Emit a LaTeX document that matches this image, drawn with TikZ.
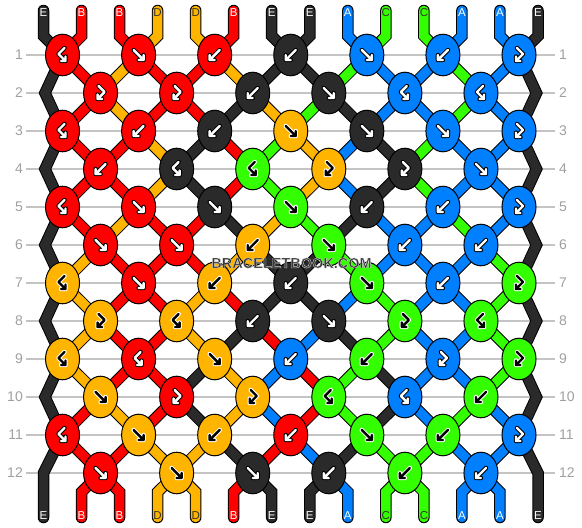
\documentclass[tikz,border=0pt]{standalone}
\usepackage{fontspec}
\setmainfont{Liberation Sans}
\usetikzlibrary{shapes.geometric}
\definecolor{c0}{HTML}{2A2A2A}
\definecolor{c1}{HTML}{FF0000}
\definecolor{c2}{HTML}{FFB400}
\definecolor{c3}{HTML}{0080FF}
\definecolor{c4}{HTML}{33FF00}
\definecolor{gridgray}{HTML}{C4C4C4}
\definecolor{numgray}{HTML}{A0A0A0}
\definecolor{wmdark}{HTML}{383838}
\definecolor{lbldark}{HTML}{333333}
% strand colours after each row (E=0,B=1,D=2,A=3,C=4)
\expandafter\def\csname st0\endcsname{0,1,1,2,2,1,0,0,3,4,4,3,3,0}
\expandafter\def\csname st1\endcsname{0,1,2,1,1,2,0,0,4,3,3,4,3,0}
\expandafter\def\csname st2\endcsname{0,1,2,1,1,0,2,4,0,3,3,4,3,0}
\expandafter\def\csname st3\endcsname{0,1,1,2,0,1,4,2,3,0,4,3,3,0}
\expandafter\def\csname st4\endcsname{0,1,1,2,0,1,4,2,3,0,4,3,3,0}
\expandafter\def\csname st5\endcsname{0,1,2,1,1,0,2,4,0,3,3,4,3,0}
\expandafter\def\csname st6\endcsname{0,2,1,1,1,2,0,0,4,3,3,3,4,0}
\expandafter\def\csname st7\endcsname{0,2,1,1,2,1,0,0,3,4,3,3,4,0}
\expandafter\def\csname st8\endcsname{0,2,1,1,2,0,1,3,0,4,3,3,4,0}
\expandafter\def\csname st9\endcsname{0,2,1,1,0,2,3,1,4,0,3,3,4,0}
\expandafter\def\csname st10\endcsname{0,1,2,1,0,2,3,1,4,0,3,4,3,0}
\expandafter\def\csname st11\endcsname{0,1,1,2,2,0,1,3,0,4,4,3,3,0}
% knots: colour/type (1 fwd, 2 bwd, 3 fwd-bwd, 4 bwd-fwd)
\expandafter\def\csname kn1\endcsname{1/4,1/1,1/2,0/2,3/1,3/2,3/3}
\expandafter\def\csname kn2\endcsname{1/3,1/3,0/2,0/1,3/4,3/4}
\expandafter\def\csname kn3\endcsname{1/4,1/2,0/2,2/1,0/1,3/1,3/3}
\expandafter\def\csname kn4\endcsname{1/2,0/4,4/4,2/3,0/3,3/1}
\expandafter\def\csname kn5\endcsname{1/4,1/1,0/1,4/1,0/2,3/2,3/3}
\expandafter\def\csname kn6\endcsname{1/1,1/1,2/2,4/1,3/2,3/2}
\expandafter\def\csname kn7\endcsname{2/4,1/1,2/2,0/2,4/1,3/2,4/3}
\expandafter\def\csname kn8\endcsname{2/3,2/4,0/2,0/1,4/3,4/4}
\expandafter\def\csname kn9\endcsname{2/4,1/4,2/1,3/2,4/2,3/3,4/3}
\expandafter\def\csname kn10\endcsname{2/1,1/3,2/3,4/4,3/4,4/2}
\expandafter\def\csname kn11\endcsname{1/4,2/1,2/2,1/2,4/1,4/2,3/3}
\expandafter\def\csname kn12\endcsname{1/1,2/1,0/1,0/2,4/2,3/2}
\newcommand\kicon[2]{%
  \ifcase#1\or
    \draw[#2] (-5,-5)--(5,5) (0,5)--(5,5)--(5,0);
  \or
    \draw[#2] (5,-5)--(-5,5) (0,5)--(-5,5)--(-5,0);
  \or
    \draw[#2] (-2,-7)--(4,-1)--(-3,6) (1.5,6)--(-3,6)--(-3,1.5);
  \or
    \draw[#2] (2,-7)--(-4,-1)--(3,6) (-1.5,6)--(3,6)--(3,1.5);
  \fi}
\tikzset{
  gridline/.style={draw=gridgray, line width=1.3pt},
  numlbl/.style={text=numgray, inner sep=0pt, font=\fontsize{14}{14}\selectfont},
  knot/.style={ellipse, draw=black, line width=1pt, minimum width=34pt, minimum height=41.6pt, inner sep=0pt},
  strandlbl/.style={inner sep=0pt, font=\fontsize{11.5}{11.5}\selectfont},
  iconstyle/.style={line cap=round, line join=round},
}
\begin{document}
\begin{tikzpicture}[x=1pt,y=-1pt]
\useasboundingbox (0,0) rectangle (582,528);
\fill[white] (0,0) rectangle (582,528);
% grid lines and row numbers
\foreach \r in {1,...,12}{
  \pgfmathsetmacro\yr{55+38*(\r-1)}
  \draw[gridline] (26,\yr) -- (555,\yr);
  \node[numlbl, anchor=east] (nl\r) at (23,\yr) {\r};
  \node[numlbl, anchor=west] (nr\r) at (559,\yr) {\r};
}
% strands: outline pass then colour pass
\foreach \pass in {0,1}{
  \ifnum\pass=0 \def\lw{11.5pt}\def\ec{black}\else \def\lw{9.5pt}\def\ec{c0}\fi
  \draw[line width=\lw, draw=\ec, line cap=round, line join=miter]
    (43.5,10.5) -- (43.5,36) -- (62.5,55) -- (45,93) -- (62.5,131) -- (45,169)
    -- (62.5,207) -- (45,245) -- (62.5,283) -- (45,321) -- (62.5,359) -- (45,397)
    -- (62.5,435) -- (43.5,473) -- (43.5,517.5);
  \draw[line width=\lw, draw=\ec, line cap=round, line join=miter]
    (538,10.5) -- (538,36) -- (519,55) -- (536.5,93) -- (519,131) -- (536.5,169)
    -- (519,207) -- (536.5,245) -- (519,283) -- (536.5,321) -- (519,359) -- (536.5,397)
    -- (519,435) -- (538,473) -- (538,517.5);
  % top and bottom ends
  \expandafter\let\expandafter\lst\csname st0\endcsname
  \foreach \kc [count=\p from 0] in \lst {
    \ifnum\p>0 \ifnum\p<13
      \ifnum\pass=0 \def\sc{black}\else \edef\sc{c\kc}\fi
      \pgfmathsetmacro\xp{43.5+38.04*\p}
      \pgfmathsetmacro\xt{43.5+38.04*(2*floor(\p/2)+0.5)}
      \pgfmathsetmacro\xbt{43.5+38.04*(2*floor((\p-1)/2)+1.5)}
      \draw[line width=\lw, draw=\sc, line cap=round, line join=miter]
        (\xp,10.5) -- (\xp,36) -- (\xt,55);
      \draw[line width=\lw, draw=\sc, line cap=round, line join=miter]
        (\xbt,473) -- (\xp,492) -- (\xp,517.5);
    \fi\fi
  }
  % segments between rows
  \foreach \r in {1,...,11}{
    \expandafter\let\expandafter\lst\csname st\r\endcsname
    \pgfmathsetmacro\ya{55+38*(\r-1)}
    \pgfmathsetmacro\yb{\ya+38}
    \foreach \kc [count=\p from 0] in \lst {
      \ifnum\p>0 \ifnum\p<13
        \ifnum\pass=0 \def\sc{black}\else \edef\sc{c\kc}\fi
        \pgfmathsetmacro\xo{43.5+38.04*(2*floor(\p/2)+0.5)}
        \pgfmathsetmacro\xe{43.5+38.04*(2*floor((\p-1)/2)+1.5)}
        \ifodd\r
          \draw[line width=\lw, draw=\sc, line cap=round] (\xo,\ya) -- (\xe,\yb);
        \else
          \draw[line width=\lw, draw=\sc, line cap=round] (\xe,\ya) -- (\xo,\yb);
        \fi
      \fi\fi
    }
  }
}
% knots
\foreach \r in {1,...,12}{
  \expandafter\let\expandafter\kl\csname kn\r\endcsname
  \pgfmathsetmacro\yk{55+38*(\r-1)}
  \ifodd\r \def\xs{62.52}\else \def\xs{100.56}\fi
  \foreach \kc/\kt [count=\k from 0] in \kl {
    \pgfmathsetmacro\xk{\xs+76.08*\k}
    \node[knot, fill=c\kc] (k\r-\k) at (\xk,\yk) {};
    \ifnum\kc=2 \def\fg{black}\def\bg{white}\else
      \ifnum\kc=4 \def\fg{black}\def\bg{white}\else \def\fg{white}\def\bg{black}\fi\fi
    \begin{scope}[shift={(k\r-\k.center)}]
      \kicon{\kt}{iconstyle, line width=4.4pt, draw=\bg}
      \kicon{\kt}{iconstyle, line width=2.4pt, draw=\fg}
    \end{scope}
  }
}
% strand labels
\expandafter\let\expandafter\lst\csname st0\endcsname
\foreach \kc [count=\p from 0] in \lst {
  \pgfmathsetmacro\xp{43.5+38.04*\p}
  \ifnum\kc=2 \def\tc{lbldark}\else \ifnum\kc=4 \def\tc{lbldark}\else \def\tc{white}\fi\fi
  \node[strandlbl, text=\tc] (top\p) at (\xp,12.5) {\ifcase\kc E\or B\or D\or A\or C\fi};
  \node[strandlbl, text=\tc] (bot\p) at (\xp,516) {\ifcase\kc E\or B\or D\or A\or C\fi};
}
% watermark (light outline via text render mode 2)
\node[font=\bfseries\fontsize{14.5}{14.5}\selectfont, inner sep=0pt] (wm) at (291.5,263)
  {\color{wmdark}\special{pdf:literal direct 2 Tr 0.4 w 1 j 0.82 G}BRACELETBOOK.COM\special{pdf:literal direct 0 Tr 0 G}};
\end{tikzpicture}
\end{document}
